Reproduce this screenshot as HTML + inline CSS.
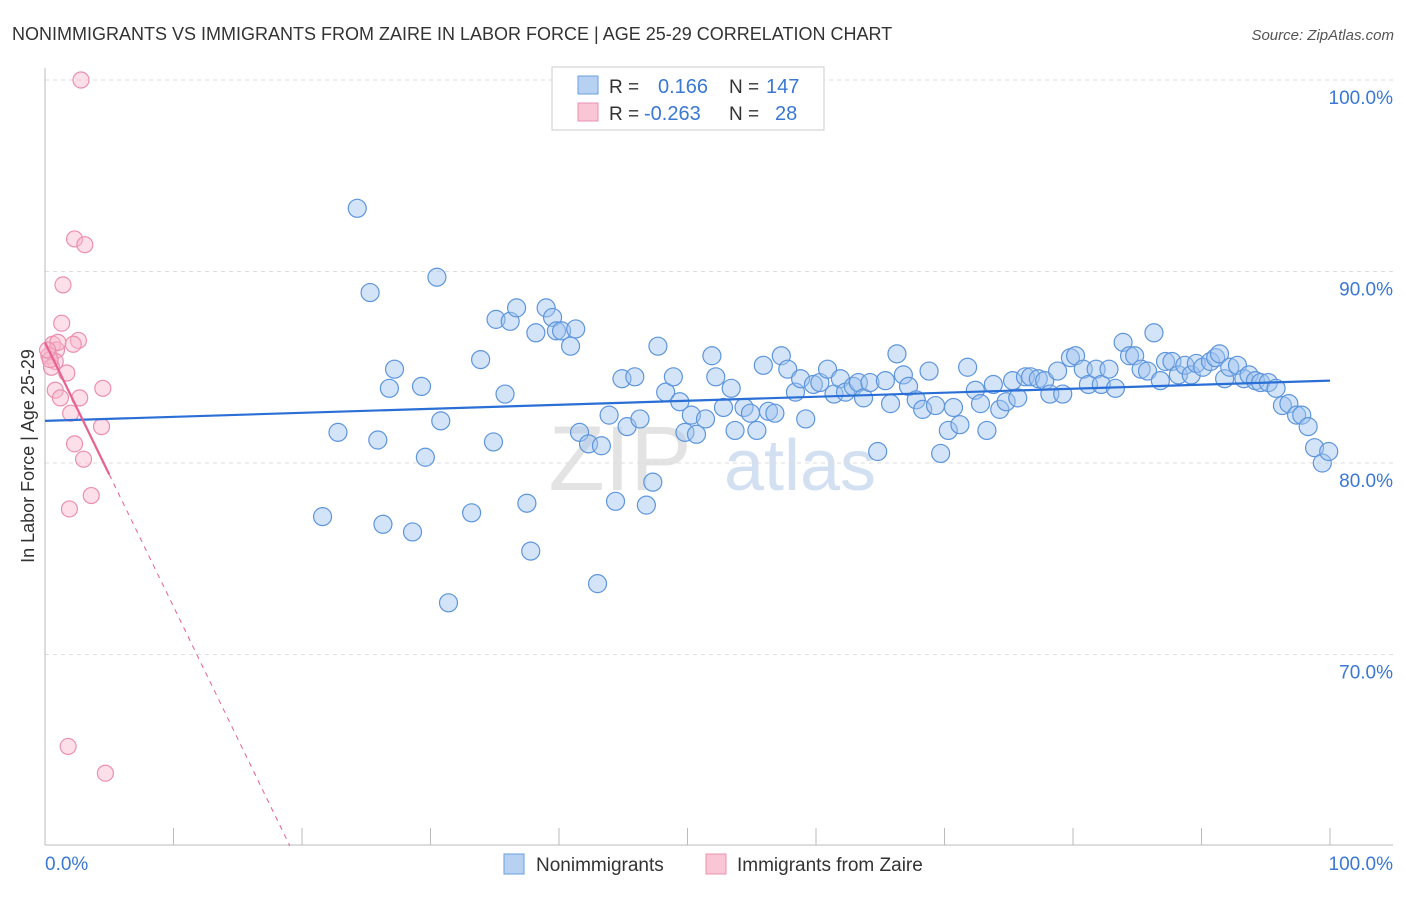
<!DOCTYPE html>
<html><head><meta charset="utf-8"><style>
body{margin:0;background:#fff;font-family:"Liberation Sans",sans-serif;}
svg text{font-family:"Liberation Sans",sans-serif;}
</style></head><body>
<svg id="chart" width="1406" height="892" xmlns="http://www.w3.org/2000/svg">
<text x="12" y="40" font-size="18" fill="#333">NONIMMIGRANTS VS IMMIGRANTS FROM ZAIRE IN LABOR FORCE | AGE 25-29 CORRELATION CHART</text>
<text x="1394" y="40" font-size="15" fill="#555" text-anchor="end" font-style="italic">Source: ZipAtlas.com</text>
<text transform="translate(34,456) rotate(-90)" font-size="18" fill="#333" text-anchor="middle">In Labor Force | Age 25-29</text>
<g>
<text x="620" y="490" font-size="92" fill="#ddd" font-family="Liberation Serif" text-anchor="middle" opacity="0.8">ZIP</text>
<text x="800" y="490" font-size="72" fill="#c7d9ef" text-anchor="middle" opacity="0.8">atlas</text>
</g>
<g id="grid"></g><g id="axes"></g><g id="pts"></g><g id="lines"></g>
<g>
<rect x="552" y="67" width="272" height="63" fill="#fff" stroke="#ccc"/>
<rect x="578" y="76" width="20" height="18" fill="#b6d1f2" stroke="#6a9ee0"/>
<text x="609" y="93" font-size="19" fill="#333">R =</text>
<text x="658" y="93" font-size="20" fill="#3a78d4">0.166</text>
<text x="729" y="93" font-size="19" fill="#333">N =</text>
<text x="766" y="93" font-size="20" fill="#3a78d4">147</text>
<rect x="578" y="103" width="20" height="18" fill="#f9c6d5" stroke="#eb90ac"/>
<text x="609" y="120" font-size="19" fill="#333">R =</text>
<text x="644" y="120" font-size="20" fill="#3a78d4">-0.263</text>
<text x="729" y="120" font-size="19" fill="#333">N =</text>
<text x="775" y="120" font-size="20" fill="#3a78d4">28</text>
</g>
<g>
<rect x="504" y="854" width="20" height="20" fill="#b6d1f2" stroke="#6a9ee0"/>
<text x="536" y="871" font-size="19" fill="#333">Nonimmigrants</text>
<rect x="706" y="854" width="20" height="20" fill="#f9c6d5" stroke="#eb90ac"/>
<text x="737" y="871" font-size="19" fill="#333">Immigrants from Zaire</text>
</g>
</svg>
<script>
const yTicks=[100,90,80,70];
const yTickLabels=["100.0%","90.0%","80.0%","70.0%"];
const xTickLabels=["0.0%","100.0%"];
const blueX=[24.3,25.3,30.5,21.6,26.3,28.6,31.4,33.2,22.8,25.9,26.8,27.2,29.3,29.6,30.8,33.9,34.9,35.1,35.8,36.2,36.7,37.5,37.8,38.2,39.0,39.5,39.8,40.2,40.9,41.3,41.6,42.3,43.0,43.3,43.9,44.4,44.9,45.3,45.9,46.3,46.8,47.3,47.7,48.3,48.9,49.4,49.8,50.3,50.7,51.4,51.9,52.2,52.8,53.4,53.7,54.4,54.9,55.4,55.9,56.3,56.8,57.3,57.8,58.4,58.8,59.2,59.8,60.3,60.9,61.4,61.9,62.3,62.9,63.3,63.7,64.2,64.8,65.4,65.8,66.3,66.8,67.2,67.8,68.3,68.8,69.3,69.7,70.3,70.7,71.2,71.8,72.4,72.8,73.3,73.8,74.3,74.8,75.3,75.7,76.3,76.7,77.3,77.8,78.2,78.8,79.2,79.8,80.2,80.8,81.2,81.8,82.2,82.8,83.3,83.9,84.4,84.8,85.3,85.8,86.3,86.8,87.2,87.7,88.2,88.7,89.2,89.6,90.1,90.7,91.1,91.4,91.8,92.2,92.8,93.3,93.7,94.2,94.6,95.2,95.8,96.3,96.8,97.4,97.8,98.3,98.8,99.4,99.9];
const blueY=[93.3,88.9,89.7,77.2,76.8,76.4,72.7,77.4,81.6,81.2,83.9,84.9,84.0,80.3,82.2,85.4,81.1,87.5,83.6,87.4,88.1,77.9,75.4,86.8,88.1,87.6,86.9,86.9,86.1,87.0,81.6,81.0,73.7,80.9,82.5,78.0,84.4,81.9,84.5,82.3,77.8,79.0,86.1,83.7,84.5,83.2,81.6,82.5,81.5,82.3,85.6,84.5,82.9,83.9,81.7,82.9,82.6,81.7,85.1,82.7,82.6,85.6,84.9,83.7,84.4,82.3,84.1,84.2,84.9,83.6,84.4,83.7,84.0,84.2,83.4,84.2,80.6,84.3,83.1,85.7,84.6,84.0,83.3,82.8,84.8,83.0,80.5,81.7,82.9,82.0,85.0,83.8,83.1,81.7,84.1,82.8,83.2,84.3,83.4,84.5,84.5,84.4,84.3,83.6,84.8,83.6,85.5,85.6,84.9,84.1,84.9,84.1,84.9,83.9,86.3,85.6,85.6,84.9,84.8,86.8,84.3,85.3,85.3,84.6,85.1,84.6,85.2,85.0,85.3,85.5,85.7,84.4,85.0,85.1,84.4,84.6,84.3,84.2,84.2,83.9,83.0,83.1,82.5,82.5,81.9,80.8,80.0,80.6];
const pinkX=[2.8,2.3,3.1,1.4,1.3,2.6,2.2,0.6,0.9,0.3,0.8,1.7,0.5,0.8,1.2,2.7,4.5,2.0,4.4,2.3,3.0,3.6,1.9,1.8,4.7,0.4,1.0,0.2];
const pinkY=[100.0,91.7,91.4,89.3,87.3,86.4,86.2,86.2,85.9,85.6,85.3,84.7,85.0,83.8,83.4,83.4,83.9,82.6,81.9,81.0,80.2,78.3,77.6,65.2,63.8,85.4,86.3,85.9];
const blueTrend=[82.2,84.3];
const pinkTrend={a:86.3,b:-1.38};
const NS="http://www.w3.org/2000/svg";
const xs=v=>45+v*12.85, ys=v=>80+(100-v)*19.15;
function mk(t,at,p){const e=document.createElementNS(NS,t);for(const k in at)e.setAttribute(k,at[k]);p.appendChild(e);return e;}
const grid=document.getElementById('grid'),axes=document.getElementById('axes');
yTicks.forEach((v,i)=>{
 const l=mk('line',{x1:45,x2:1393,y1:ys(v),y2:ys(v),stroke:'#ddd','stroke-dasharray':'4,4'},grid);
 
 
 const t=mk('text',{x:1393,y:ys(v)+24,'font-size':19,fill:'#3a78d4','text-anchor':'end'},axes);
 t.textContent=yTickLabels[i];
 
 
});
let a=mk('line',{x1:45,x2:45,y1:68,y2:845,stroke:'#bbb'},axes);


a=mk('line',{x1:45,x2:1393,y1:845,y2:845,stroke:'#bbb'},axes);


for(let i=1;i<=10;i++){const x=xs(i*10);const t=mk('line',{x1:x,x2:x,y1:828,y2:845,stroke:'#bbb'},axes);
 
 }
[[0,'start',45],[100,'end',1393]].forEach((d,i)=>{const t=mk('text',{x:d[2],y:870,'font-size':19,fill:'#3a78d4','text-anchor':d[1]},axes);t.textContent=xTickLabels[i];
 
 });
const pts=document.getElementById('pts');
blueX.forEach((x,i)=>{const c=mk('circle',{cx:xs(x),cy:ys(blueY[i]),r:9,fill:'rgba(160,195,240,0.45)',stroke:'#5d95dc','stroke-width':1.2},pts);
 
 });
pinkX.forEach((x,i)=>{const c=mk('circle',{cx:xs(x),cy:ys(pinkY[i]),r:8,fill:'rgba(248,185,205,0.45)',stroke:'#ec8fae','stroke-width':1.2},pts);
 
 });
const lines=document.getElementById('lines');
let L=mk('line',{x1:xs(0),y1:ys(blueTrend[0]),x2:xs(100),y2:ys(blueTrend[1]),stroke:'#2a6fd6','stroke-width':2.2},lines);


const pe=5, pend=(60-pinkTrend.a)/pinkTrend.b;
L=mk('line',{x1:xs(0),y1:ys(pinkTrend.a),x2:xs(pe),y2:ys(pinkTrend.a+pinkTrend.b*pe),stroke:'#e8608f','stroke-width':2.2},lines);


L=mk('line',{x1:xs(pe),y1:ys(pinkTrend.a+pinkTrend.b*pe),x2:xs(pend),y2:ys(60),stroke:'#e8608f','stroke-width':1,'stroke-dasharray':'5,5'},lines);


</script>
</body></html>
